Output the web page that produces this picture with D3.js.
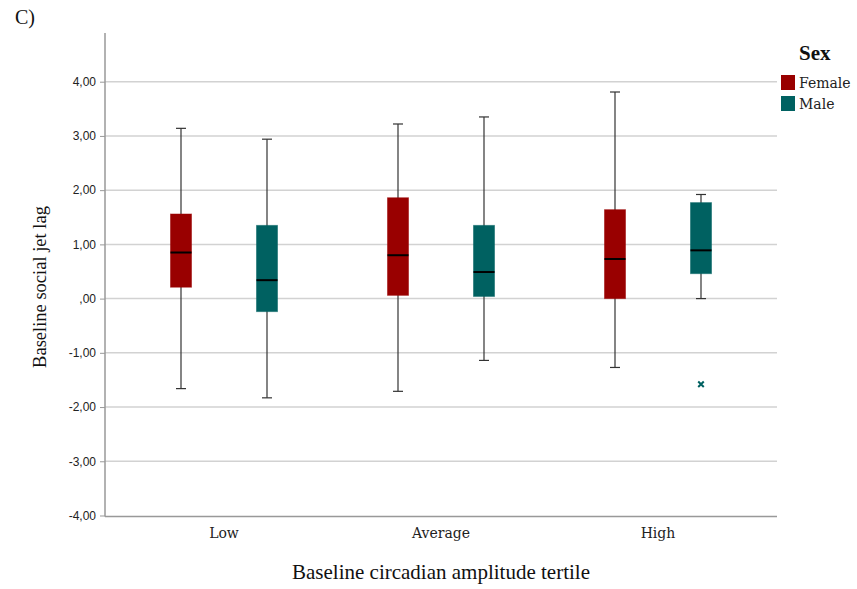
<!DOCTYPE html>
<html>
<head>
<meta charset="utf-8">
<script src="https://cdn.jsdelivr.net/npm/d3@7"></script>
<style>
  body { margin: 0; background: #fff; }
  .tick text { font-family: "Liberation Sans", Arial, sans-serif; font-size: 12px; fill: #222; }
  .serif { font-family: "Liberation Serif", "Times New Roman", serif; fill: #111; }
  .slab { font-family: "DejaVu Serif", serif; fill: #222; }
</style>
</head>
<body>
<script>
// data
const categories = ["Low", "Average", "High"];
const groups = ["Female", "Male"];
const groupColors = ["#990000", "#006161"];
const yTicks = [-4, -3, -2, -1, 0, 1, 2, 3, 4];

// five number summaries, one array per sex, in category order
const femaleStats = [
  {min: -1.66, q1: 0.21, median: 0.85, q3: 1.56, max: 3.14},
  {min: -1.71, q1: 0.06, median: 0.80, q3: 1.86, max: 3.22},
  {min: -1.27, q1: 0.00, median: 0.73, q3: 1.64, max: 3.81}
];
const maleStats = [
  {min: -1.83, q1: -0.24, median: 0.34, q3: 1.35, max: 2.94},
  {min: -1.14, q1: 0.04, median: 0.49, q3: 1.35, max: 3.35},
  {min: 0.00, q1: 0.46, median: 0.89, q3: 1.77, max: 1.92}
];
const maleOutliers = [[], [], [-1.58]];

let width = 857, height = 589;
let svg = null;
let x, xSub, y = null;

appendSvg("body");
setupScales();
appendGrid();
appendAxes();
appendBoxes();
appendLegend();
appendTitles();

function appendSvg(domElement) {
  svg = d3.select(domElement).append("svg")
    .attr("width", width)
    .attr("height", height);
}

function setupScales() {
  x = d3.scaleBand()
    .domain(categories)
    .range([115.5, 766.5]);
  xSub = d3.scalePoint()
    .domain(groups)
    .range([-43, 43]);
  y = d3.scaleLinear()
    .domain([-4, 4])
    .range([515.5, 81.7]);
}

function appendGrid() {
  svg.append("g")
    .selectAll("line")
    .data(yTicks.filter(d => d > -4))
    .enter()
    .append("line")
    .attr("x1", 105)
    .attr("x2", 777)
    .attr("y1", d => y(d))
    .attr("y2", d => y(d))
    .style("stroke", "#d2d2d2")
    .style("stroke-width", 1.5);
}

function appendAxes() {
  const fmt = d => (d === 0 ? ",00" : d3.format(".2f")(d).replace(".", ",").replace("−", "-"));
  const yAxis = svg.append("g")
    .attr("transform", "translate(105,0)")
    .call(d3.axisLeft(y).tickValues(yTicks).tickFormat(fmt).tickSize(5).tickPadding(4));
  yAxis.select(".domain").remove();
  yAxis.selectAll(".tick line").style("stroke", "#999");

  svg.append("line")
    .attr("x1", 105).attr("x2", 105)
    .attr("y1", 33).attr("y2", 516.5)
    .style("stroke", "#999").style("stroke-width", 1.5);
  svg.append("line")
    .attr("x1", 105).attr("x2", 777)
    .attr("y1", 516.5).attr("y2", 516.5)
    .style("stroke", "#999").style("stroke-width", 1.5);

  svg.append("g")
    .selectAll("text")
    .data(categories)
    .enter()
    .append("text")
    .attr("class", "slab")
    .attr("x", d => x(d) + x.bandwidth() / 2)
    .attr("y", 538)
    .attr("text-anchor", "middle")
    .style("font-size", "14px")
    .text(d => d);
}

function appendBoxes() {
  const boxW = 21, capW = 10;
  const rows = [];
  categories.forEach((c, i) => {
    rows.push({cat: c, grp: "Female", color: groupColors[0], s: femaleStats[i], out: []});
    rows.push({cat: c, grp: "Male", color: groupColors[1], s: maleStats[i], out: maleOutliers[i]});
  });

  const cx = d => x(d.cat) + x.bandwidth() / 2 + xSub(d.grp);

  const box = svg.append("g").selectAll("g")
    .data(rows)
    .enter()
    .append("g");

  // whisker
  box.append("line")
    .attr("x1", cx).attr("x2", cx)
    .attr("y1", d => y(d.s.max)).attr("y2", d => y(d.s.min))
    .style("stroke", "#333").style("stroke-width", 1.2);
  box.append("line")
    .attr("x1", d => cx(d) - capW / 2).attr("x2", d => cx(d) + capW / 2)
    .attr("y1", d => y(d.s.max)).attr("y2", d => y(d.s.max))
    .style("stroke", "#333").style("stroke-width", 1.2);
  box.append("line")
    .attr("x1", d => cx(d) - capW / 2).attr("x2", d => cx(d) + capW / 2)
    .attr("y1", d => y(d.s.min)).attr("y2", d => y(d.s.min))
    .style("stroke", "#333").style("stroke-width", 1.2);

  box.append("rect")
    .attr("x", d => cx(d) - boxW / 2)
    .attr("y", d => y(d.s.q3))
    .attr("width", boxW)
    .attr("height", d => y(d.s.q1) - y(d.s.q3))
    .style("fill", d => d.color)
    .style("stroke", d => d.color)
    .style("stroke-opacity", 0.5);

  box.append("line")
    .attr("x1", d => cx(d) - boxW / 2).attr("x2", d => cx(d) + boxW / 2)
    .attr("y1", d => y(d.s.median)).attr("y2", d => y(d.s.median))
    .style("stroke", "#000").style("stroke-width", 2);

  // outliers as small crosses
  box.selectAll("path.out")
    .data(d => d.out.map(v => ({v: v, cx: cx(d), color: d.color})))
    .enter()
    .append("path")
    .attr("class", "out")
    .attr("d", d3.symbol().type(d3.symbolTimes).size(22))
    .attr("transform", d => `translate(${d.cx},${y(d.v)})`)
    .style("fill", "none")
    .style("stroke", d => d.color)
    .style("stroke-width", 2);
}

function appendLegend() {
  svg.append("text")
    .attr("class", "serif")
    .attr("x", 799).attr("y", 60)
    .style("font-size", "21px")
    .style("font-weight", "bold")
    .text("Sex");

  const legend = svg.append("g");
  legend.selectAll("rect")
    .data(groups)
    .enter()
    .append("rect")
    .attr("x", 781)
    .attr("y", (d, i) => 75 + i * 21)
    .attr("width", 14)
    .attr("height", 15)
    .style("fill", (d, i) => groupColors[i]);
  legend.selectAll("text")
    .data(groups)
    .enter()
    .append("text")
    .attr("class", "slab")
    .attr("x", 799)
    .attr("y", (d, i) => 88 + i * 21)
    .style("font-size", "14px")
    .text(d => d);
}

function appendTitles() {
  svg.append("text")
    .attr("class", "serif")
    .attr("x", 15).attr("y", 24)
    .style("font-size", "20px")
    .text("C)");

  svg.append("text")
    .attr("class", "serif")
    .attr("transform", "translate(46,287) rotate(-90)")
    .attr("text-anchor", "middle")
    .style("font-size", "18.5px")
    .text("Baseline social jet lag");

  svg.append("text")
    .attr("class", "serif")
    .attr("x", 441).attr("y", 579)
    .attr("text-anchor", "middle")
    .style("font-size", "21px")
    .text("Baseline circadian amplitude tertile");
}
</script>
</body>
</html>
